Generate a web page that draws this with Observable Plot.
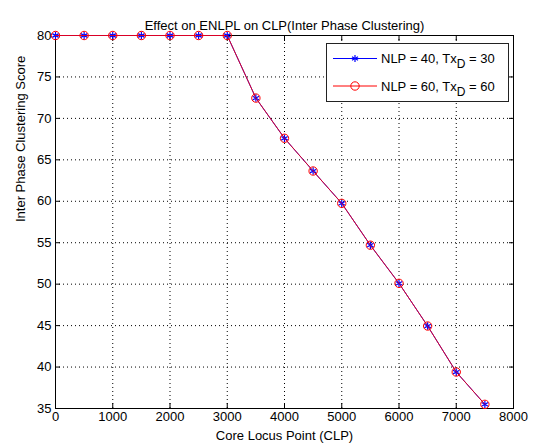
<!DOCTYPE html>
<html><head><meta charset="utf-8">
<script src="https://cdn.jsdelivr.net/npm/d3@7"></script>
<script src="https://cdn.jsdelivr.net/npm/@observablehq/plot@0.6"></script>
<style>
body{margin:0;background:#fff;font-family:"Liberation Sans",Arial,sans-serif}
#wrap{position:relative;width:534px;height:448px;background:#fff}
#legend{position:absolute;left:326px;top:43px}
</style></head><body><div id="wrap"></div>
<script>
const titleText = "Effect on ENLPL on CLP(Inter Phase Clustering)";
const xLabel = "Core Locus Point (CLP)";
const yLabel = "Inter Phase Clustering Score";
const clp = [0,500,1000,1500,2000,2500,3000,3500,4000,4500,5000,5500,6000,6500,7000,7500];
const scoreNLP40 = [80,80,80,80,80,80,80,72.45,67.6,63.65,59.75,54.7,50.1,44.95,39.4,35.5];
const scoreNLP60 = [80,80,80,80,80,80,80,72.45,67.6,63.65,59.75,54.7,50.1,44.95,39.4,35.5];
const seriesLabels = [["NLP = 40, Tx","D"," = 30"],["NLP = 60, Tx","D"," = 60"]];
const seriesColors = ["#0000ff","#ff0000"];
const xTicks = [0,1000,2000,3000,4000,5000,6000,7000,8000];
const yTicks = [35,40,45,50,55,60,65,70,75,80];

const rowsA = clp.map((x,i)=>({x, y: scoreNLP40[i]}));
const rowsB = clp.map((x,i)=>({x, y: scoreNLP60[i]}));
const font = "Liberation Sans, Arial, Helvetica, sans-serif";
const fs = 13;

const chart = Plot.plot({
  width:534, height:448,
  marginLeft:55, marginRight:21, marginTop:35, marginBottom:40,
  style:{fontFamily:font, fontSize:fs+"px", background:"#fff", color:"#000", overflow:"visible"},
  x:{domain:[0,8000]},
  y:{domain:[35,80]},
  marks:[
    Plot.gridX(xTicks, {stroke:"#000", strokeOpacity:1, strokeDasharray:"1,3"}),
    Plot.gridY(yTicks, {stroke:"#000", strokeOpacity:1, strokeDasharray:"1,3"}),
    Plot.frame({stroke:"#000", strokeWidth:1}),
    Plot.axisX(xTicks, {anchor:"bottom", tickSize:-5, text:null, label:null}),
    Plot.axisX(xTicks, {anchor:"top", tickSize:-5, text:null, label:null}),
    Plot.axisY(yTicks, {anchor:"left", tickSize:-5, text:null, label:null}),
    Plot.axisY(yTicks, {anchor:"right", tickSize:-5, text:null, label:null}),
    Plot.axisX(xTicks, {anchor:"bottom", tickSize:0, tickPadding:3, label:null, fontSize:fs, tickFormat:d=>String(d)}),
    Plot.axisY(yTicks, {anchor:"left", tickSize:0, tickPadding:4, label:null, fontSize:fs, tickFormat:d=>String(d)}),
    Plot.line(rowsA, {x:"x", y:"y", stroke:seriesColors[0], strokeWidth:1}),
    Plot.dot(rowsA, {x:"x", y:"y", symbol:"asterisk", stroke:seriesColors[0], r:3.5, strokeWidth:1.2}),
    Plot.line(rowsB, {x:"x", y:"y", stroke:seriesColors[1], strokeWidth:1, strokeOpacity:0.85}),
    Plot.dot(rowsB, {x:"x", y:"y", symbol:"circle", stroke:seriesColors[1], fill:"none", r:4.2, strokeWidth:1}),
    Plot.text([titleText], {text:d=>d, frameAnchor:"top", dy:-15, fontSize:fs}),
    Plot.text([xLabel], {text:d=>d, frameAnchor:"bottom", dy:31, fontSize:fs}),
    Plot.text([yLabel], {text:d=>d, frameAnchor:"left", dx:-35, rotate:-90, fontSize:fs})
  ]
});
const wrap = document.getElementById("wrap");
wrap.appendChild(chart);

// legend overlay
const ns = "http://www.w3.org/2000/svg";
const leg = document.createElementNS(ns, "svg");
leg.setAttribute("id","legend");
leg.setAttribute("width", 183);
leg.setAttribute("height", 59);
leg.style.position = "absolute";
leg.style.left = "326px";
leg.style.top = "43px";
let html = `<rect x="0.5" y="0.5" width="182" height="58" fill="#fff" stroke="#222"/>`;
seriesLabels.forEach((lab,i)=>{
  const cy = 15.5 + i*27.5;
  const c = seriesColors[i];
  html += `<line x1="7" x2="51" y1="${cy}" y2="${cy}" stroke="${c}" stroke-width="1"/>`;
  if (i===0) {
    const r = 3.5;
    for (let k=0;k<3;k++){
      const a = Math.PI/2 + k*Math.PI/3;
      html += `<line x1="${29-r*Math.cos(a)}" y1="${cy-r*Math.sin(a)}" x2="${29+r*Math.cos(a)}" y2="${cy+r*Math.sin(a)}" stroke="${c}" stroke-width="1.2"/>`;
    }
  } else {
    html += `<circle cx="29" cy="${cy}" r="4.2" fill="none" stroke="${c}"/>`;
  }
  html += `<text x="55" y="${cy}" dy="0.35em" font-family="${font}" font-size="${fs}" fill="#000">${lab[0]}<tspan dy="5" font-size="${fs-1}">${lab[1]}</tspan><tspan dy="-5"> ${lab[2].trim()}</tspan></text>`;
});
leg.innerHTML = html;
wrap.appendChild(leg);
</script></body></html>
